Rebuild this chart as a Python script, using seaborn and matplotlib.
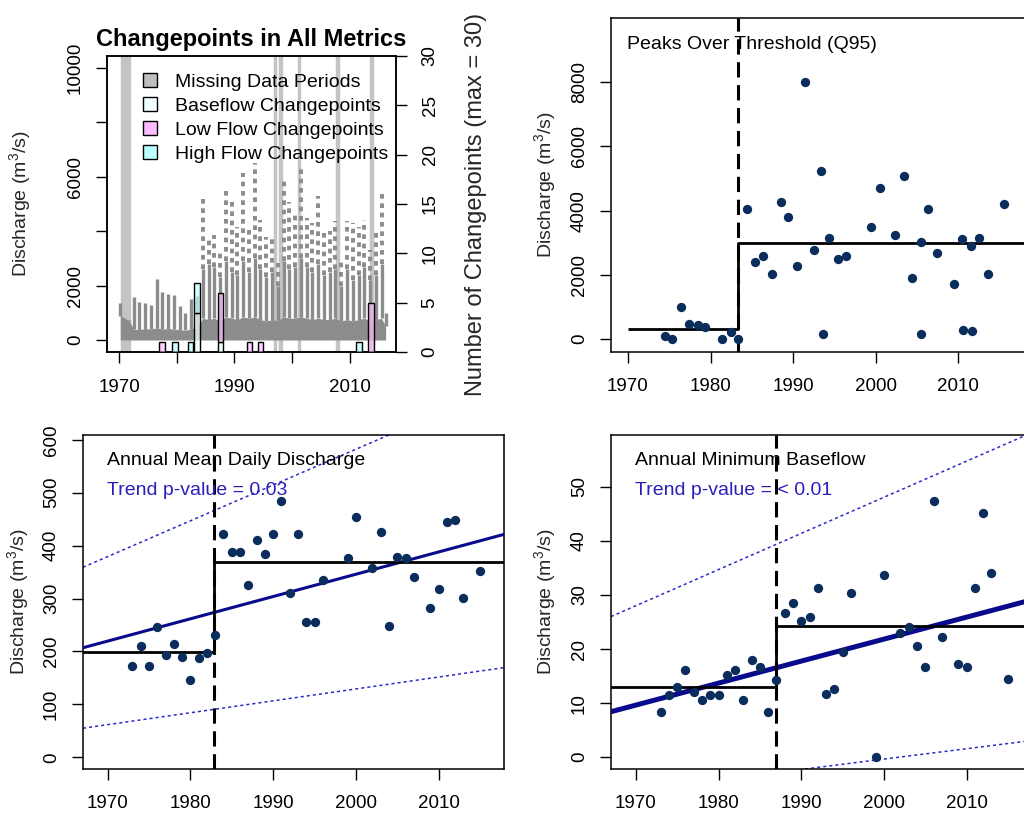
import numpy as np
import pandas as pd
import seaborn as sns
import matplotlib.pyplot as plt
from matplotlib.colors import to_rgba
from matplotlib.patches import Patch

# --- DATI ---
# portata giornaliera riassunta per anno: livello denso, picco pieno, picco massimo (punteggiato)
q_time = [1970.2, 1971.8] + [y + 0.5 for y in range(1972, 2016)] + [2016.2]
q_dense = [900, 700, 400, 380, 420, 400, 450, 400, 420, 400, 380, 350, 420, 450,
           800, 750, 800, 700, 850, 800, 750, 850, 800, 850, 750, 700, 750, 700,
           850, 800, 800, 850, 800, 750, 800, 750, 750, 800, 700, 750, 700, 750,
           800, 700, 750, 800, 500]
q_solid = [1350, 750, 1590, 1400, 1350, 1300, 2250, 1750, 1700, 1650, 1250, 1000, 1500, 1600,
           2600, 2800, 2700, 2300, 2900, 2500, 2400, 2900, 2500, 3000, 2600, 2300, 2500, 2000,
           2900, 2600, 2700, 3000, 2700, 2500, 2800, 2400, 2500, 2600, 2000, 2600, 2200, 2400,
           2700, 2200, 2400, 2800, 1000]
q_max = [1350, 750, 1590, 1400, 1350, 1300, 2250, 1750, 1700, 1650, 1250, 1000, 1500, 1600,
         5340, 3800, 3860, 3310, 5520, 5090, 4170, 6130, 4070, 6500, 4420, 3800, 3860, 2820,
         5890, 5090, 4660, 6380, 4480, 4290, 5280, 3930, 3990, 4360, 2940, 4360, 4290, 4170,
         4420, 3310, 4050, 5460, 1000]

# periodi con dati mancanti
miss_start = [1970.55, 1996.95, 1997.95, 2001.15, 2007.85, 2013.75]
miss_end = [1971.70, 1997.05, 1998.05, 2001.25, 2007.95, 2013.85]

# numero di changepoint per anno
cp_year = [1977.4, 1979.7, 1982.4, 1983.5, 1987.6, 1992.6, 1994.5, 2011.6, 2013.7]
cp_base = [0, 0, 0, 4, 1, 0, 0, 0, 0]
cp_low = [1, 0, 0, 0, 5, 1, 1, 0, 5]
cp_high = [0, 1, 1, 3, 0, 0, 0, 1, 0]

# Peaks Over Threshold (Q95)
pot_year = [1974.44, 1975.33, 1976.42, 1977.35, 1978.44, 1979.37, 1981.35, 1982.44, 1983.37,
            1984.46, 1985.39, 1986.32, 1987.41, 1988.5, 1989.39, 1990.48, 1991.45, 1992.5,
            1993.43, 1993.6, 1994.36, 1995.45, 1996.38, 1999.45, 2000.55, 2002.4, 2003.49,
            2004.42, 2005.52, 2005.52, 2006.4, 2007.5, 2009.52, 2010.48, 2010.6, 2011.58,
            2011.73, 2012.5, 2013.6, 2015.54]
pot_q = [94, 0, 987, 468, 450, 384, 0, 229, 0,
         4052, 2400, 2598, 2026, 4281, 3813, 2265, 8000, 2785,
         5226, 145, 3159, 2494, 2598, 3481, 4707, 3252, 5091,
         1891, 3013, 145, 4052, 2681, 1704, 3117, 281, 2909,
         239, 3148, 2026, 4198]
pot_cp = 1983.33
pot_means = [301, 2992]
pot_span = [1970.0, 2019.0]

# Annual Mean Daily Discharge
amd_year = [1973, 1974, 1975, 1976, 1977, 1978, 1979, 1980, 1981, 1982, 1983, 1984, 1985,
            1986, 1987, 1988, 1989, 1990, 1991, 1992, 1993, 1994, 1995, 1996, 1999, 2000,
            2002, 2003, 2004, 2005, 2006, 2007, 2009, 2010, 2011, 2012, 2013, 2015]
amd_q = [173, 211, 173, 246, 193, 214, 190, 146, 188, 198, 231, 422, 388,
         388, 325, 411, 385, 422, 485, 311, 422, 256, 256, 336, 376, 454,
         357, 425, 248, 379, 376, 341, 282, 319, 445, 448, 302, 353]
amd_cp = 1982.85
amd_means = [198.5, 370]
amd_trend = [207, 4.21]      # valore al 1967, pendenza
amd_upper = [359, 6.76]
amd_lower = [55, 2.25]

# Annual Minimum Baseflow
amb_year = amd_year
amb_q = [8.3, 11.4, 12.9, 16.1, 12.1, 10.5, 11.4, 11.4, 15.2, 16.1, 10.5, 17.9, 16.7,
         8.3, 14.2, 26.7, 28.6, 25.1, 25.9, 31.2, 11.6, 12.6, 19.4, 30.4, 0.0, 33.7,
         23.0, 24.0, 20.6, 16.7, 47.4, 22.3, 17.2, 16.7, 31.2, 45.2, 34.0, 14.5]
amb_cp = 1986.92
amb_means = [13.0, 24.3]
amb_trend = [8.4, 0.407]
amb_upper = [26.0, 0.669]
amb_lower = [-6.7, 0.192]

# --- STILE ---
sns.set_style("ticks")
plt.rcParams['font.family'] = ['Liberation Sans', 'DejaVu Sans']
plt.rcParams['mathtext.fontset'] = 'custom'
plt.rcParams['mathtext.rm'] = 'Liberation Sans'
plt.rcParams['mathtext.it'] = 'Liberation Sans:italic'
plt.rcParams['text.color'] = 'black'

FS_TICK = 13.5
FS_TXT = 14
grigio = '#8C8C8C'
grigio_mancanti = '#C4C4C4'
col_punti = '#0B2D5C'
col_trend = '#0A0A8C'
col_ci = '#2A2AC8'
col_ptesto = '#2B1FB8'
ylab = r'Discharge (m$^3$/s)'

W, H = 1024, 819
fig = plt.figure(figsize=(W / 100, H / 100), dpi=100)


def assi_px(left, top, right, bottom):
    return fig.add_axes([left / W, 1 - bottom / H, (right - left) / W, (bottom - top) / H])


def stile_box(ax, xpad=10.5):
    for s in ax.spines.values():
        s.set_visible(True)
        s.set_color('black')
        s.set_linewidth(1.1)
    ax.tick_params(axis='both', direction='out', length=8, width=1.0,
                   labelsize=FS_TICK, colors='black')
    ax.tick_params(axis='x', pad=xpad)
    ax.tick_params(axis='y', pad=8.5)
    for lab in ax.get_yticklabels():
        lab.set_rotation(90)
        lab.set_va('center')


def linea_cp(ax, cp, means, x0, x1):
    ax.plot([x0, cp, cp, x1], [means[0], means[0], means[1], means[1]],
            color='black', lw=2.0, solid_capstyle='butt', zorder=3)
    ax.axvline(cp, color='black', lw=2.2, dashes=(5, 2.5), zorder=3)


def trend(ax, par, xlim, **kw):
    xx = np.array(xlim)
    ax.plot(xx, par[0] + par[1] * (xx - 1967), **kw)


# --- PANNELLO 1: changepoint in tutte le metriche ---
axA = assi_px(107, 56, 396, 352)
for s, e in zip(miss_start, miss_end):
    axA.axvspan(s, e, color=grigio_mancanti, lw=2.5, zorder=1)
axA.fill_between(q_time, 0, q_dense, color=grigio, lw=0, zorder=2)
axA.vlines(q_time, q_dense, q_solid, color=grigio, lw=2.4, zorder=2)
axA.vlines(q_time, q_solid, q_max, color=grigio, lw=2.8, linestyles=(0, (1.2, 1.2)), zorder=2)
axA.set_xlim(1967.9, 2018.0)
axA.set_ylim(-441, 10441)
axA.set_xticks([1970, 1980, 1990, 2000, 2010])
axA.set_xticklabels(['1970', '', '1990', '', '2010'])
axA.set_yticks([0, 2000, 4000, 6000, 8000, 10000])
axA.set_yticklabels(['0', '2000', '', '6000', '', '10000'])
stile_box(axA, xpad=11.5)
axA.set_ylabel(ylab, fontsize=FS_TXT)
axA.yaxis.set_label_coords(-0.256, 0.5)
axA.set_title('Changepoints in All Metrics', fontsize=17, fontweight='bold', pad=7)

axA2 = axA.twinx()
fondo = np.zeros(len(cp_year))
for vals, col in [(cp_base, '#F0FFFF'), (cp_low, '#FFBBFF'), (cp_high, '#BBFFFF')]:
    vals = np.array(vals, dtype=float)
    m = vals > 0
    axA2.bar(np.array(cp_year)[m], vals[m], bottom=fondo[m], width=0.95,
             facecolor=to_rgba(col, 0.7), edgecolor='black', linewidth=1.0, zorder=3)
    fondo += vals
axA2.set_ylim(0, 30)
axA2.set_yticks([0, 5, 10, 15, 20, 25, 30])
axA2.tick_params(axis='y', direction='out', length=8, width=1.0, labelsize=FS_TICK,
                 colors='black', pad=10.5)
for lab in axA2.get_yticklabels():
    lab.set_rotation(90)
    lab.set_va('center')
for s in axA2.spines.values():
    s.set_color('black')
    s.set_linewidth(1.1)
axA2.set_ylabel('Number of Changepoints (max = 30)', fontsize=17)
axA2.yaxis.set_label_coords(1.240, 0.5)

maniglie = [Patch(facecolor='#BEBEBE', edgecolor='black', lw=1.0),
            Patch(facecolor='#F0FFFF', edgecolor='black', lw=1.0),
            Patch(facecolor='#FFBBFF', edgecolor='black', lw=1.0),
            Patch(facecolor='#BBFFFF', edgecolor='black', lw=1.0)]
etichette = ['Missing Data Periods', 'Baseflow Changepoints',
             'Low Flow Changepoints', 'High Flow Changepoints']
axA2.legend(maniglie, etichette, loc='upper left', bbox_to_anchor=(143 / W, 1 - 73 / H),
            bbox_transform=fig.transFigure, frameon=False, fontsize=FS_TXT,
            handlelength=0.72, handleheight=0.72, handletextpad=0.93,
            labelspacing=0.33, borderpad=0, borderaxespad=0)

# --- PANNELLO 2: Peaks Over Threshold ---
axB = assi_px(611, 18, 1026, 352)
df_pot = pd.DataFrame({'anno': pot_year, 'q': pot_q})
sns.scatterplot(data=df_pot, x='anno', y='q', ax=axB, color=col_punti, s=45,
                linewidth=0, zorder=4)
linea_cp(axB, pot_cp, pot_means, pot_span[0], pot_span[1])
axB.set_xlim(1967.94, 2018.24)
axB.set_ylim(-405, 10000)
axB.set_xticks([1970, 1980, 1990, 2000, 2010])
axB.set_yticks([0, 2000, 4000, 6000, 8000])
stile_box(axB)
axB.set_xlabel('')
axB.set_ylabel(ylab, fontsize=FS_TXT)
axB.yaxis.set_label_coords(-0.128, 0.5)
axB.text(0.0386, 0.906, 'Peaks Over Threshold (Q95)', transform=axB.transAxes,
         fontsize=FS_TXT, va='baseline', ha='left')

# --- PANNELLO 3: Annual Mean Daily Discharge ---
axC = assi_px(83, 435, 504, 769)
xlimC = (1967.02, 2017.9)
df_amd = pd.DataFrame({'anno': amd_year, 'q': amd_q})
trend(axC, amd_upper, xlimC, color=col_ci, lw=1.1, dashes=(2, 2), zorder=2)
trend(axC, amd_lower, xlimC, color=col_ci, lw=1.1, dashes=(2, 2), zorder=2)
sns.scatterplot(data=df_amd, x='anno', y='q', ax=axC, color=col_punti, s=45,
                linewidth=0, zorder=4)
trend(axC, amd_trend, xlimC, color=col_trend, lw=2.2, zorder=3)
linea_cp(axC, amd_cp, amd_means, xlimC[0] - 1, xlimC[1] + 1)
axC.set_xlim(*xlimC)
axC.set_ylim(-22, 609)
axC.set_xticks([1970, 1980, 1990, 2000, 2010])
axC.set_yticks([0, 100, 200, 300, 400, 500, 600])
stile_box(axC)
axC.set_xlabel('')
axC.set_ylabel(ylab, fontsize=FS_TXT)
axC.yaxis.set_label_coords(-0.1235, 0.5)
axC.text(0.057, 0.910, 'Annual Mean Daily Discharge', transform=axC.transAxes,
         fontsize=FS_TXT, va='baseline', ha='left')
axC.text(0.057, 0.820, 'Trend p-value = 0.03', transform=axC.transAxes,
         fontsize=FS_TXT, va='baseline', ha='left', color=col_ptesto)

# --- PANNELLO 4: Annual Minimum Baseflow ---
axD = assi_px(611, 435, 1032, 769)
xlimD = (1967.0, 2017.9)
df_amb = pd.DataFrame({'anno': amb_year, 'q': amb_q})
trend(axD, amb_upper, xlimD, color=col_ci, lw=1.1, dashes=(2, 2), zorder=2)
trend(axD, amb_lower, xlimD, color=col_ci, lw=1.1, dashes=(2, 2), zorder=2)
sns.scatterplot(data=df_amb, x='anno', y='q', ax=axD, color=col_punti, s=45,
                linewidth=0, zorder=4)
trend(axD, amb_trend, xlimD, color=col_trend, lw=3.6, zorder=3)
linea_cp(axD, amb_cp, amb_means, xlimD[0] - 1, xlimD[1] + 1)
axD.set_xlim(*xlimD)
axD.set_ylim(-2.2, 59.6)
axD.set_xticks([1970, 1980, 1990, 2000, 2010])
axD.set_yticks([0, 10, 20, 30, 40, 50])
stile_box(axD)
axD.set_xlabel('')
axD.set_ylabel(ylab, fontsize=FS_TXT)
axD.yaxis.set_label_coords(-0.126, 0.5)
axD.text(0.057, 0.910, 'Annual Minimum Baseflow', transform=axD.transAxes,
         fontsize=FS_TXT, va='baseline', ha='left')
axD.text(0.057, 0.820, 'Trend p-value = < 0.01', transform=axD.transAxes,
         fontsize=FS_TXT, va='baseline', ha='left', color=col_ptesto)

fig.savefig('out.png', dpi=100)
